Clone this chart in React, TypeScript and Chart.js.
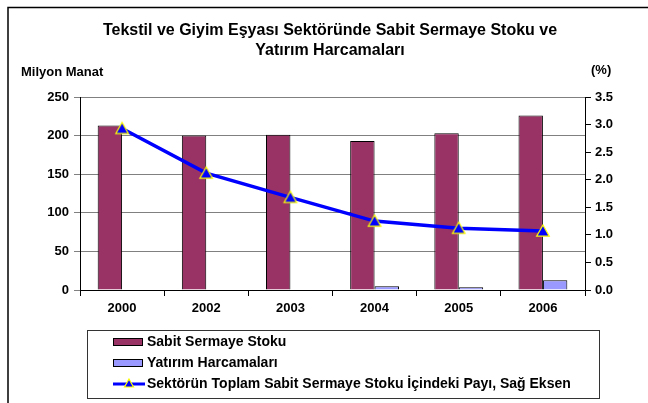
import React, { useEffect, useRef } from "react";
import { Chart, registerables } from "chart.js";

Chart.register(...registerables);

const categories = ["2000", "2002", "2003", "2004", "2005", "2006"];
const sabitSermayeStoku = [213, 200, 201, 193, 203, 226];
const yatirimHarcamalari = [0, 0, 0, 4.8, 3.5, 12.6];
const sektorPayi = [2.93, 2.12, 1.68, 1.25, 1.12, 1.07];
const leftTicks = [0, 250, 50];
const rightTicks = [0, 3.5, 0.5];

const titleLines = ["Tekstil ve Giyim Eşyası Sektöründe Sabit Sermaye Stoku ve", "Yatırım Harcamaları"];
const leftUnit = "Milyon Manat";
const rightUnit = "(%)";
const seriesNames = [
  "Sabit Sermaye Stoku",
  "Yatırım Harcamaları",
  "Sektörün Toplam Sabit Sermaye Stoku İçindeki Payı, Sağ Eksen",
];

const FONT = "'Liberation Sans', Arial, sans-serif";
const PURPLE = "#993366";
const LIGHT = "#9999FF";
const BLUE = "#0000FF";
const YELLOW = "#FFFF00";

function drawTriangle(ctx: CanvasRenderingContext2D, x: number, y: number, r: number) {
  ctx.beginPath();
  ctx.moveTo(x, y - r);
  ctx.lineTo(x + r * 0.9, y + r * 0.6);
  ctx.lineTo(x - r * 0.9, y + r * 0.6);
  ctx.closePath();
  ctx.fillStyle = BLUE;
  ctx.fill();
  ctx.strokeStyle = YELLOW;
  ctx.lineWidth = 1.2;
  ctx.stroke();
}

const decorPlugin = {
  id: "decor",
  beforeDraw(chart: any) {
    const ctx = chart.ctx as CanvasRenderingContext2D;
    ctx.save();
    ctx.fillStyle = "#ffffff";
    ctx.fillRect(0, 0, chart.width, chart.height);
    ctx.restore();
  },
  afterDraw(chart: any) {
    const ctx = chart.ctx as CanvasRenderingContext2D;
    ctx.save();
    // outer frame
    ctx.strokeStyle = "#000";
    ctx.lineWidth = 1.5;
    ctx.strokeRect(8, 7.5, 800, 600);

    // title
    ctx.fillStyle = "#000";
    ctx.font = `bold 16px ${FONT}`;
    ctx.textAlign = "center";
    ctx.textBaseline = "middle";
    ctx.fillText(titleLines[0], 330, 31);
    ctx.fillText(titleLines[1], 330, 51);

    // unit labels
    ctx.font = `bold 13px ${FONT}`;
    ctx.textAlign = "left";
    ctx.fillText(leftUnit, 21, 72);
    ctx.fillText(rightUnit, 591, 70);

    // legend box
    const lx = 87, ly = 330, lw = 512, lh = 68;
    ctx.strokeStyle = "#333";
    ctx.lineWidth = 1;
    ctx.strokeRect(lx + 0.5, ly + 0.5, lw, lh);

    const rows = [342, 363, 384];
    ctx.font = `bold 14px ${FONT}`;
    ctx.textBaseline = "middle";
    // bar swatches
    const sw = [PURPLE, LIGHT];
    for (let i = 0; i < 2; i++) {
      ctx.fillStyle = sw[i];
      ctx.fillRect(113, rows[i] - 3.5, 30, 7);
      ctx.strokeStyle = "#000";
      ctx.lineWidth = 1;
      ctx.strokeRect(113.5, rows[i] - 3.5, 29, 7);
    }
    // line swatch
    ctx.strokeStyle = BLUE;
    ctx.lineWidth = 3;
    ctx.beginPath();
    ctx.moveTo(113, rows[2]);
    ctx.lineTo(145, rows[2]);
    ctx.stroke();
    drawTriangle(ctx, 129, rows[2], 5);

    ctx.fillStyle = "#000";
    for (let i = 0; i < 3; i++) {
      ctx.fillText(seriesNames[i], 147, rows[i]);
    }
    ctx.restore();
  },
};

export default function App() {
  const ref = useRef<HTMLCanvasElement | null>(null);

  useEffect(() => {
    document.body.style.margin = "0";
    if (!ref.current) return;
    const triangle = document.createElement("canvas");
    triangle.width = 16;
    triangle.height = 16;
    const tctx = triangle.getContext("2d")!;
    drawTriangle(tctx, 8, 9, 7);

    const chart = new Chart(ref.current, {
      type: "bar",
      data: {
        labels: categories,
        datasets: [
          {
            type: "line",
            label: seriesNames[2],
            data: sektorPayi,
            yAxisID: "y1",
            borderColor: BLUE,
            borderWidth: 3.5,
            pointStyle: triangle as any,
            pointRadius: 7,
            tension: 0,
            order: 0,
          } as any,
          {
            label: seriesNames[0],
            data: sabitSermayeStoku,
            backgroundColor: PURPLE,
            borderColor: "#000",
            borderWidth: 1,
            yAxisID: "y",
            order: 1,
          },
          {
            label: seriesNames[1],
            data: yatirimHarcamalari,
            backgroundColor: LIGHT,
            borderColor: "#000",
            borderWidth: 1,
            yAxisID: "y",
            order: 2,
          },
        ],
      },
      options: {
        responsive: false,
        animation: false,
        layout: { padding: { left: 0, right: 0, top: 97, bottom: 83 } },
        datasets: {
          bar: { categoryPercentage: 0.58, barPercentage: 1 },
        },
        plugins: {
          legend: { display: false },
          title: { display: false },
          tooltip: { enabled: false },
        },
        scales: {
          x: {
            grid: {
              offset: true,
              drawOnChartArea: false,
              drawTicks: true,
              tickLength: 6,
              tickColor: "#000",
            },
            border: { color: "#000", width: 1 },
            ticks: {
              color: "#000",
              padding: 5,
              font: { family: FONT, size: 13, weight: "bold" },
            },
            afterFit: (s: any) => {
              s.height = 30;
            },
          },
          y: {
            position: "left",
            min: leftTicks[0],
            max: leftTicks[1],
            ticks: {
              stepSize: leftTicks[2],
              color: "#000",
              padding: 5,
              font: { family: FONT, size: 13, weight: "bold" },
            },
            grid: { color: "#808080", tickColor: "#808080", tickLength: 6, lineWidth: 1 },
            border: { color: "#000", width: 1 },
            afterFit: (s: any) => {
              s.width = 80;
            },
          },
          y1: {
            position: "right",
            min: rightTicks[0],
            max: rightTicks[1],
            ticks: {
              stepSize: rightTicks[2],
              color: "#000",
              padding: 4,
              font: { family: FONT, size: 13, weight: "bold" },
              callback: (v: any) => Number(v).toFixed(1),
            },
            grid: { drawOnChartArea: false, tickColor: "#000", tickLength: 6 },
            border: { color: "#000", width: 1 },
            afterFit: (s: any) => {
              s.width = 63;
            },
          },
        },
      } as any,
      plugins: [decorPlugin],
    });
    return () => chart.destroy();
  }, []);

  return (
    <div style={{ position: "absolute", left: 0, top: 0, width: 648, height: 403 }}>
      <canvas ref={ref} width={648} height={403} style={{ width: 648, height: 403 }} />
    </div>
  );
}
